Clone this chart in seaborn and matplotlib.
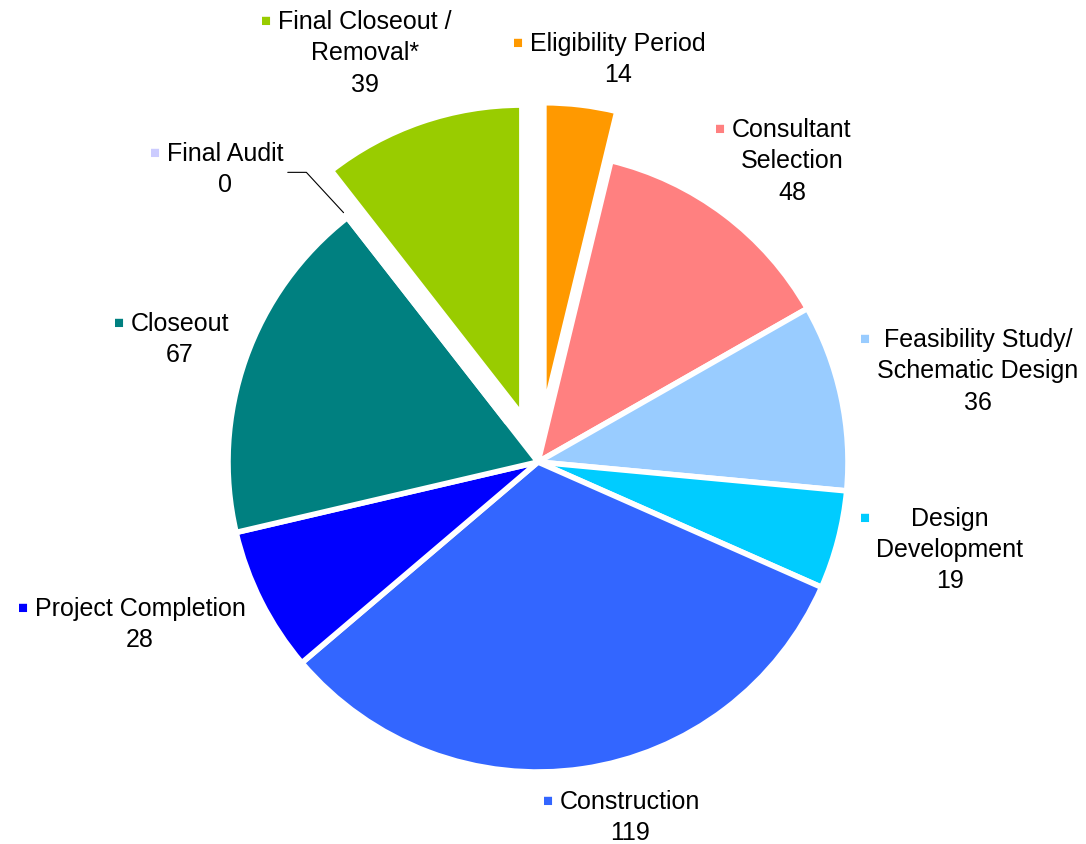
import numpy as np
import matplotlib
matplotlib.use("Agg")
import matplotlib.pyplot as plt
import seaborn as sns

# data, clockwise from 12 o'clock
phases = ["Eligibility Period", "Consultant Selection", "Feasibility Study/ Schematic Design",
          "Design Development", "Construction", "Project Completion", "Closeout",
          "Final Audit", "Final Closeout / Removal*"]
counts = [14, 48, 36, 19, 119, 28, 67, 0, 39]
label_text = ["Eligibility Period", "Consultant\nSelection", "Feasibility Study/\nSchematic Design",
              "Design\nDevelopment", "Construction", "Project Completion", "Closeout",
              "Final Audit", "Final Closeout /\nRemoval*"]
colors = ["#FF9900", "#FF8080", "#99CCFF", "#00CCFF", "#3366FF", "#0000FF",
          "#008080", "#CCCCFF", "#99CC00"]
exploded = ["Eligibility Period", "Final Audit", "Final Closeout / Removal*"]

# centre of the first line of each label block (pie radius = 1)
label_pos = [(0.258, 1.355), (0.819, 1.077), (1.419, 0.40), (1.329, -0.177),
             (0.297, -1.09), (-1.284, -0.468), (-1.155, 0.452), (-1.01, 1.0),
             (-0.558, 1.426)]

sns.set_theme(style="white")
plt.rcParams['font.family'] = ['Liberation Sans', 'DejaVu Sans']

fig = plt.figure(figsize=(10.86, 8.44), dpi=100)
ax = fig.add_axes([0, 0, 1, 1])

explode = [0.16 if p in exploded else 0 for p in phases]
ax.pie(counts, colors=colors, startangle=90, counterclock=False, explode=explode,
       radius=1, wedgeprops=dict(edgecolor="white", linewidth=4))

total = sum(counts)
fs = 18
for i, (txt, val) in enumerate(zip(label_text, counts)):
    x, y = label_pos[i]
    y = y + 0.033
    block = ax.text(x, y, f"{txt}\n{val}", ha="center", va="top",
                    fontsize=fs, linespacing=1.39, multialignment="center", color="black")
    first = ax.text(x, y, txt.split("\n")[0], ha="center", va="top", fontsize=fs,
                    color="black", alpha=0)
    ax.annotate("■", xy=(0, 0.5), xycoords=(block, first), xytext=(-5, 0),
                textcoords="offset points", ha="right", va="center",
                fontsize=12, color=colors[i])

# leader line for the zero slice
cum = np.cumsum([0] + counts)
i0 = phases.index("Final Audit")
ang = np.deg2rad(90 - 360 * cum[i0] / total)
end = np.array([np.cos(ang), np.sin(ang)]) * 1.02
elbow = end + np.array([-0.12, 0.13])
start = elbow + np.array([-0.06, 0])
ax.plot([start[0], elbow[0], end[0]], [start[1], elbow[1], end[1]], color="black", lw=0.8)

ax.set_xlim(-538 / 310, (1086 - 538) / 310)
ax.set_ylim(-(844 - 462) / 310, 462 / 310)
ax.set_aspect("equal")
ax.axis("off")

fig.savefig("out.png", dpi=100)
